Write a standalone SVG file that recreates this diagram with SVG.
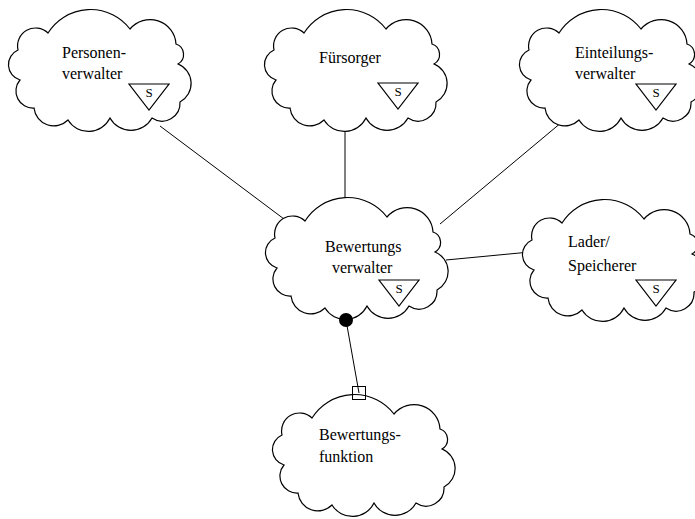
<svg xmlns="http://www.w3.org/2000/svg" xmlns:xlink="http://www.w3.org/1999/xlink" width="695" height="519" viewBox="0 0 695 519">
  <style>
    .cloud { fill: #ffffff; stroke: #000000; stroke-width: 1.2; }
    .conn { stroke: #000000; stroke-width: 1; fill: none; }
    .label { font-size: 16px; fill: #000000; }
    .tri { fill: #ffffff; stroke: #000000; stroke-width: 1.2; }
    .tri-s { font-size: 13px; fill: #000000; text-anchor: middle; }
  </style>
  <defs>
    <!-- Booch class cloud, local box about 182 x 120 -->
    <path id="cloud" class="cloud" d="M 8,42
      A 18,18 0 0 1 38,25
      A 50,50 0 0 1 120,21
      A 26,26 0 0 1 166,36
      A 11,11 0 0 1 168,56
      A 21,21 0 0 1 170,94
      A 18,18 0 0 1 142,110
      A 24,24 0 0 1 100,110
      A 24,24 0 0 1 58,112
      A 20,20 0 0 1 24,100
      A 17,17 0 0 1 10,72
      A 16,16 0 0 1 8,42 Z"/>
    <!-- static class adornment -->
    <g id="static">
      <path class="tri" d="M -20,0 L 20,0 L 0,26 Z"/>
      <text class="tri-s" x="0" y="13" font-family="Liberation Serif, DejaVu Serif, serif">S</text>
    </g>
  </defs>

  <g id="connectors">
    <line class="conn" x1="160" y1="126" x2="288" y2="222"/>
    <line class="conn" x1="345" y1="127" x2="345" y2="200"/>
    <line class="conn" x1="562" y1="122" x2="440" y2="224"/>
    <line class="conn" x1="446" y1="260" x2="530" y2="252"/>
    <line class="conn" x1="346" y1="320" x2="359" y2="393"/>
  </g>

  <g font-family="Liberation Serif, DejaVu Serif, serif">
    <g id="personenverwalter">
      <use xlink:href="#cloud" transform="translate(10,8)"/>
      <text class="label" x="62" y="58">Personen-</text>
      <text class="label" x="62" y="79">verwalter</text>
      <use xlink:href="#static" transform="translate(149,84)"/>
    </g>

    <g id="fuersorger">
      <use xlink:href="#cloud" transform="translate(266,8)"/>
      <text class="label" x="319" y="63">Fürsorger</text>
      <use xlink:href="#static" transform="translate(398,83)"/>
    </g>

    <g id="einteilungsverwalter">
      <use xlink:href="#cloud" transform="translate(521,8)"/>
      <text class="label" x="575" y="58">Einteilungs-</text>
      <text class="label" x="575" y="79">verwalter</text>
      <use xlink:href="#static" transform="translate(656,84)"/>
    </g>

    <g id="bewertungsverwalter">
      <use xlink:href="#cloud" transform="translate(267,196)"/>
      <text class="label" x="325" y="252">Bewertungs</text>
      <text class="label" x="332" y="273">verwalter</text>
      <use xlink:href="#static" transform="translate(399,280)"/>
    </g>

    <g id="lader-speicherer">
      <use xlink:href="#cloud" transform="translate(524,198)"/>
      <text class="label" x="568" y="247">Lader/</text>
      <text class="label" x="568" y="271">Speicherer</text>
      <use xlink:href="#static" transform="translate(656,280)"/>
    </g>

    <g id="bewertungsfunktion">
      <use xlink:href="#cloud" transform="translate(274,393)"/>
      <text class="label" x="319" y="440">Bewertungs-</text>
      <text class="label" x="319" y="462">funktion</text>
    </g>
  </g>

  <!-- relationship adornments: filled circle at the user end, square at the used end -->
  <g id="adornments">
    <circle cx="346" cy="320" r="7" fill="#000000"/>
    <rect x="352.5" y="386.5" width="13" height="13" fill="none" stroke="#000000" stroke-width="1"/>
  </g>
</svg>
